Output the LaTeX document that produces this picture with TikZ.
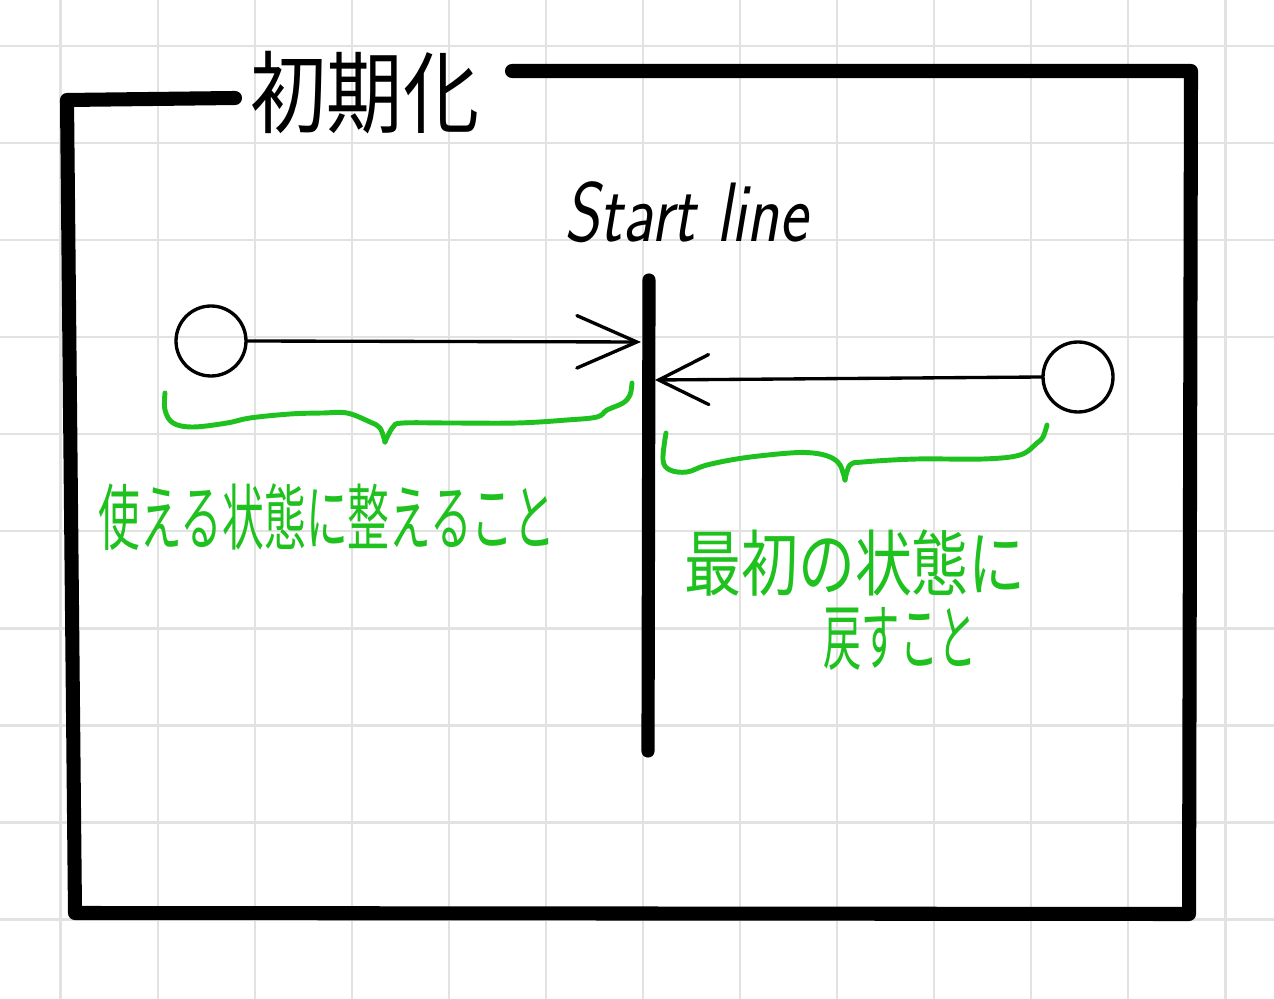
\documentclass[tikz,border=0pt]{standalone}
\usepackage{fontspec}
\newfontfamily\cjk{Noto Sans CJK JP}
\usetikzlibrary{arrows.meta}
\definecolor{gridgray}{HTML}{E2E2E2}
\definecolor{pen}{HTML}{1FC11F}
\begin{document}
\begin{tikzpicture}[x=0.02cm,y=-0.02cm,
  gridline/.style={draw=gridgray,line width=1.4pt},
  frame/.style={line width=8pt,line cap=round,line join=round},
  bar/.style={line width=7.5pt,line cap=round},
  state/.style={circle,draw,line width=1.9pt,minimum size=1.4cm,inner sep=0pt},
  conn/.style={line width=1.9pt,line cap=round},
  brace/.style={draw=pen,line width=2.8pt,line cap=round,line join=round},
  gtext/.style={text=pen,inner sep=0pt,font=\cjk\fontsize{41}{45}\selectfont},
  title/.style={inner sep=0pt,font=\cjk\fontsize{51}{55}\selectfont}]
\useasboundingbox (0,0) rectangle (1274,999);
\fill[white] (0,0) rectangle (1274,999);
\foreach \i in {0,...,12} \draw[gridline] ({60.7+97.05*\i},0) -- ({60.7+97.05*\i},999);
\foreach \j in {0,...,9} \draw[gridline] (0,{46+97.05*\j}) -- (1274,{46+97.05*\j});
% frame
\draw[frame] (235,98) -- (67,100) -- (75,913) -- (1189,914) -- (1191,71) -- (512,71);
\node[title] (title) at (365,93) {\scalebox{0.85}[1]{初期化}};
% start line
\node[inner sep=0pt,font=\sffamily\itshape\fontsize{48}{50}\selectfont] (startlbl) at (686,212) {\scalebox{0.8}[1]{Start line}};
\coordinate (barTop) at (649,280);
\coordinate (barBot) at (648,751);
\draw[bar] (barTop) -- (barBot);
% states
\node[state] (c1) at (211,341) {};
\node[state] (c2) at (1078,377) {};
\coordinate (tipL) at (641,342);
\coordinate (tipR) at (655,380);
\draw[conn,-{Straight Barb[length=1.2cm,width=1.05cm,line cap=round]}] (c1.east) -- (tipL);
\draw[conn,-{Straight Barb[length=1cm,width=1cm,line cap=round]}] (c2.west) -- (tipR);
% braces
\draw[brace] plot[smooth,tension=0.6] coordinates {(165,393) (165,410) (173,423) (193,427) (227,423) (250,418) (290,414) (323,413) (347,413) (370,422) (380,428) (385,442)};
\draw[brace] plot[smooth,tension=0.6] coordinates {(385,442) (393,427) (403,423) (450,423) (517,423) (567,420) (597,417) (607,410) (623,403) (630,395) (632,383)};
\draw[brace] plot[smooth,tension=0.6] coordinates {(666,433) (663,460) (670,470) (687,472) (707,465) (743,458) (790,453) (813,453) (830,457) (840,465) (845,480)};
\draw[brace] plot[smooth,tension=0.6] coordinates {(845,480) (850,465) (863,462) (917,459) (983,459) (1020,455) (1037,443) (1043,437) (1047,425)};
% green texts
\node[gtext] (t1) at (327,517) {\scalebox{0.58}[1]{使える状態に整えること}};
\node[gtext] (t2) at (855,563) {\scalebox{0.79}[1]{最初の状態に}};
\node[gtext] (t3) at (900,639) {\scalebox{0.53}[1]{戻すこと}};
\end{tikzpicture}
\end{document}
